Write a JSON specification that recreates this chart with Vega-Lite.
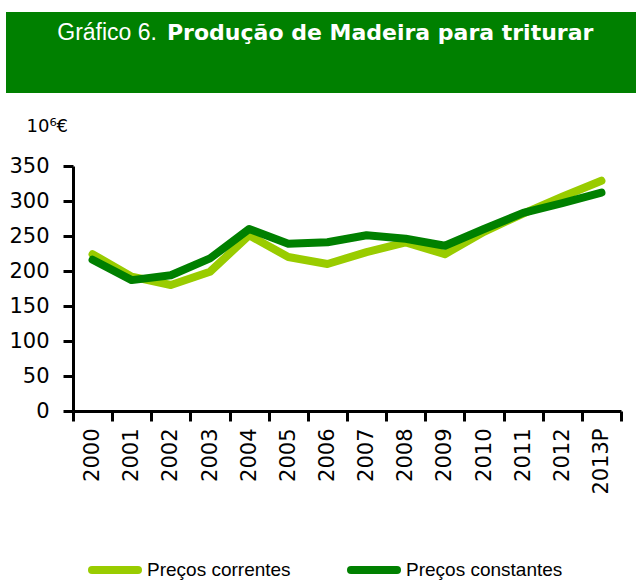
{
  "$schema": "https://vega.github.io/schema/vega-lite/v6.json",
  "padding": {"left": 6, "top": 12, "right": 0, "bottom": 0},
  "background": "white",
  "spacing": 24,
  "config": {"view": {"stroke": null}, "concat": {"spacing": 1}},
  "vconcat": [
    {
      "width": 630,
      "height": 81,
      "view": {"fill": "#008000", "stroke": null},
      "data": {"values": [
        {"parte": 1, "titulo": "Gráfico 6."},
        {"parte": 2, "titulo": "Produção de Madeira para triturar"}
      ]},
      "layer": [
        {
          "transform": [{"filter": "datum.parte == 1"}],
          "mark": {"type": "text", "align": "right", "baseline": "alphabetic", "dx": -164, "dy": -13, "font": "Liberation Sans", "fontSize": 23, "color": "white"},
          "encoding": {"text": {"field": "titulo", "type": "nominal"}}
        },
        {
          "transform": [{"filter": "datum.parte == 2"}],
          "mark": {"type": "text", "align": "left", "baseline": "alphabetic", "dx": -154, "dy": -13, "font": "DejaVu Sans", "fontWeight": "bold", "fontSize": 22, "color": "white"},
          "encoding": {"text": {"field": "titulo", "type": "nominal"}}
        }
      ]
    },
    {
      "spacing": 1,
      "hconcat": [
        {
          "width": 0.01,
          "height": 245,
          "data": {"values": []},
          "mark": "point"
        },
        {
          "width": 548,
          "height": 245,
          "data": {"values": [
            {"ano": "2000", "serie": "Preços correntes", "valor": 224},
            {"ano": "2001", "serie": "Preços correntes", "valor": 192},
            {"ano": "2002", "serie": "Preços correntes", "valor": 180},
            {"ano": "2003", "serie": "Preços correntes", "valor": 199},
            {"ano": "2004", "serie": "Preços correntes", "valor": 251},
            {"ano": "2005", "serie": "Preços correntes", "valor": 220},
            {"ano": "2006", "serie": "Preços correntes", "valor": 210},
            {"ano": "2007", "serie": "Preços correntes", "valor": 227},
            {"ano": "2008", "serie": "Preços correntes", "valor": 241},
            {"ano": "2009", "serie": "Preços correntes", "valor": 224},
            {"ano": "2010", "serie": "Preços correntes", "valor": 256},
            {"ano": "2011", "serie": "Preços correntes", "valor": 282},
            {"ano": "2012", "serie": "Preços correntes", "valor": 306},
            {"ano": "2013P", "serie": "Preços correntes", "valor": 329},
            {"ano": "2000", "serie": "Preços constantes", "valor": 216},
            {"ano": "2001", "serie": "Preços constantes", "valor": 187},
            {"ano": "2002", "serie": "Preços constantes", "valor": 194},
            {"ano": "2003", "serie": "Preços constantes", "valor": 218},
            {"ano": "2004", "serie": "Preços constantes", "valor": 260},
            {"ano": "2005", "serie": "Preços constantes", "valor": 239},
            {"ano": "2006", "serie": "Preços constantes", "valor": 241},
            {"ano": "2007", "serie": "Preços constantes", "valor": 251},
            {"ano": "2008", "serie": "Preços constantes", "valor": 246},
            {"ano": "2009", "serie": "Preços constantes", "valor": 236},
            {"ano": "2010", "serie": "Preços constantes", "valor": 260},
            {"ano": "2011", "serie": "Preços constantes", "valor": 283},
            {"ano": "2012", "serie": "Preços constantes", "valor": 297},
            {"ano": "2013P", "serie": "Preços constantes", "valor": 312}
          ]},
          "encoding": {
            "x": {
              "field": "ano", "type": "ordinal", "sort": null,
              "scale": {"type": "band", "paddingInner": 0, "paddingOuter": 0},
              "axis": {
                "title": null, "labelAngle": -90, "labelFont": "DejaVu Sans", "labelFontSize": 21,
                "labelColor": "black", "labelPadding": 7, "tickBand": "extent", "tickSize": 10,
                "tickWidth": 3, "tickColor": "black", "domainWidth": 3, "domainColor": "black"
              }
            },
            "y": {
              "field": "valor", "type": "quantitative",
              "scale": {"domain": [0, 350], "nice": false},
              "axis": {
                "values": [0, 50, 100, 150, 200, 250, 300, 350],
                "title": "10⁶€", "titleAngle": 0, "titleX": -47, "titleY": -35,
                "titleAlign": "left", "titleBaseline": "alphabetic", "titleFont": "DejaVu Sans",
                "titleFontSize": 18, "titleFontWeight": "normal", "titleColor": "black",
                "labelFont": "DejaVu Sans", "labelFontSize": 21, "labelColor": "black",
                "labelPadding": 14, "tickSize": 10, "tickWidth": 3, "tickColor": "black",
                "domainWidth": 3, "domainColor": "black", "grid": false
              }
            },
            "color": {
              "field": "serie", "type": "nominal",
              "scale": {"domain": ["Preços correntes", "Preços constantes"], "range": ["#99CC00", "#008000"]},
              "legend": {
                "orient": "none", "legendX": 82, "legendY": 531, "direction": "horizontal",
                "title": null, "symbolType": "stroke", "symbolSize": 2116, "symbolStrokeWidth": 8,
                "labelFont": "Liberation Sans", "labelFontSize": 19, "labelColor": "black",
                "labelOffset": 5, "columnPadding": 44,
                "encode": {"symbols": {"update": {"strokeCap": {"value": "round"}}}}
              }
            }
          },
          "layer": [
            {
              "transform": [{"filter": "datum.serie == 'Preços correntes'"}],
              "mark": {"type": "line", "strokeWidth": 8, "strokeCap": "round", "strokeJoin": "round"}
            },
            {
              "transform": [{"filter": "datum.serie == 'Preços constantes'"}],
              "mark": {"type": "line", "strokeWidth": 8, "strokeCap": "round", "strokeJoin": "round"}
            }
          ]
        }
      ]
    }
  ]
}
